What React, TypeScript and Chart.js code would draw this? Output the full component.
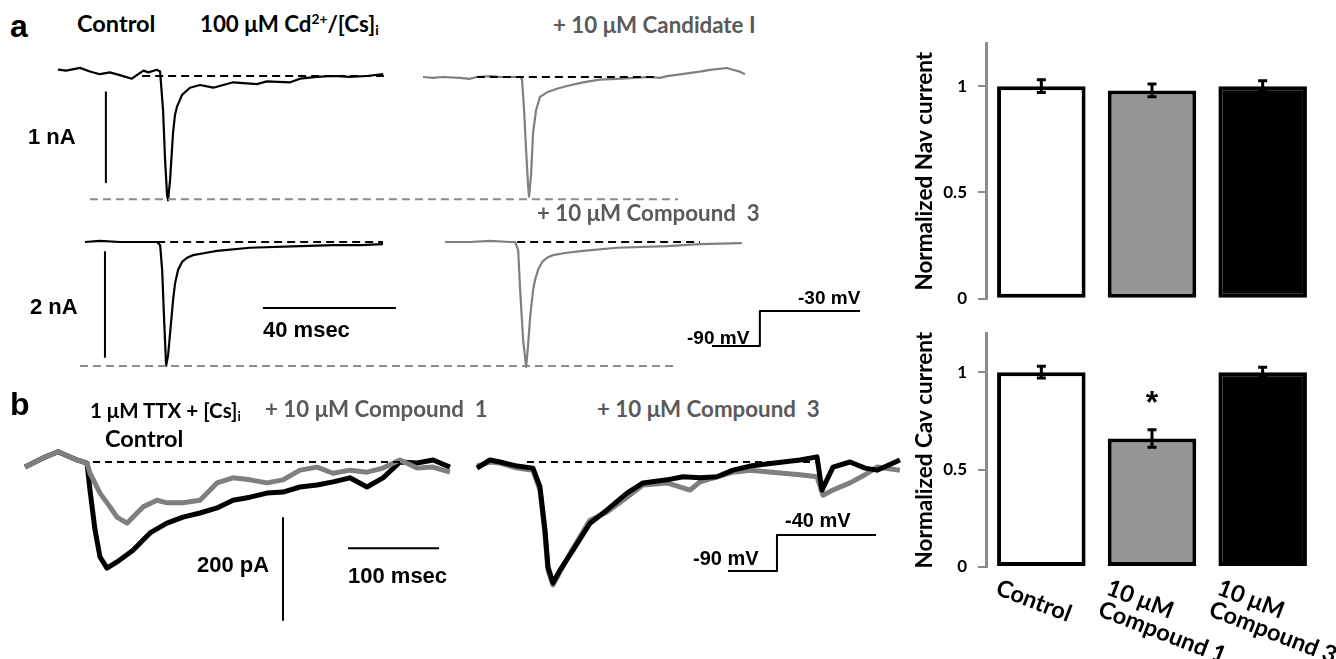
import React, { useEffect, useRef } from "react";
import { Chart, registerables } from "chart.js";

Chart.register(...registerables);

// ================= DATA =================
// Panel a, row 1 — Control trace (time ms, current nA)
const a1Time = [0, 2.5, 6.6, 9.6, 12.6, 15.6, 18.6, 22.2, 23.7, 25.7, 27.2, 29.7, 30.7, 31.6, 32.2, 32.8, 33.1, 33.7, 34.6, 35.2, 35.8, 37.3, 39.7, 42.7, 46.7, 52.7, 59.8, 62.8, 69.8, 72.8, 77.8, 82.8, 87.8, 92.8, 97.8];
const a1Current = [0.07, 0.06, 0.09, 0.05, 0.02, 0.04, 0.01, -0.03, 0.01, 0.06, 0.04, 0.07, 0.05, -0.38, -0.93, -1.32, -1.38, -1.16, -0.63, -0.43, -0.34, -0.21, -0.13, -0.1, -0.13, -0.07, -0.09, -0.06, -0.07, -0.03, -0.01, 0, -0.01, 0, 0.02];
const a1ZeroSpan = [25.3, 98.0];
const a1PeakLevel = -1.37;
const a1PeakSpan = [9.6, 186.5];
const a1ScaleBarTime = 14.4;
const a1ScaleBarCurrent = [-0.18, -1.18]; // 1 nA

// Panel a, row 1 — + 10 µM Candidate I
const a2Time = [0, 3.0, 6.0, 11.1, 14.1, 16.2, 20.2, 23.2, 26.2, 29.2, 29.8, 30.4, 31.0, 31.6, 31.9, 32.5, 33.1, 34.0, 35.2, 37.3, 40.3, 43.3, 48.1, 53.2, 58.3, 68.3, 71.3, 73.4, 83.3, 86.3, 91.4, 93.2, 95.3, 96.8];
const a2Current = [0, -0.01, 0, -0.01, -0.02, 0, 0.01, 0, 0, 0, -0.03, -0.37, -0.81, -1.2, -1.33, -1.09, -0.62, -0.37, -0.22, -0.17, -0.13, -0.1, -0.06, -0.03, -0.02, 0, -0.01, 0.01, 0.06, 0.08, 0.1, 0.08, 0.06, 0.03];
const a2ZeroSpan = [16.2, 70.7];

// Panel a, row 2 — Control
const a3Time = [0, 4.5, 10.5, 16.5, 21.7, 22.6, 23.2, 23.8, 24.4, 25.0, 25.6, 26.5, 27.1, 28.0, 29.2, 30.7, 32.5, 36.1, 39.7, 49.6, 64.7, 74.6, 82.7, 89.6];
const a3Current = [0, 0.02, 0, 0, 0, -0.06, -0.53, -1.49, -2.36, -2.15, -1.73, -1.1, -0.78, -0.53, -0.38, -0.3, -0.25, -0.21, -0.17, -0.11, -0.08, -0.06, -0.06, -0.04];
const a3ZeroSpan = [21.7, 89.6];
const a3PeakLevel = -2.36;
const a3PeakSpan = [-1.5, 178.3];
const a3ScaleBarTime = 6.0;
const a3ScaleBarCurrent = [-0.19, -2.19]; // 2 nA
const a3TimeBar = [53.5, 93.5]; // 40 msec
const a3TimeBarLevel = -1.257;

// Panel a, row 2 — + 10 µM Compound 3
const a4Time = [0, 7.5, 13.5, 19.5, 21.1, 22.0, 22.6, 23.5, 24.4, 25.0, 25.6, 26.5, 27.1, 28.0, 29.2, 30.7, 32.5, 36.1, 41.5, 51.7, 66.8, 76.7, 89.3];
const a4Current = [0, 0, 0.02, 0, 0, -0.15, -0.91, -1.87, -2.38, -1.96, -1.43, -0.91, -0.72, -0.53, -0.38, -0.3, -0.25, -0.21, -0.17, -0.11, -0.08, -0.04, -0.02];
const a4ZeroSpan = [21.7, 76.7];

// Voltage protocols (ms, mV)
const stepATime = [0, 14.4, 14.4, 44.5];
const stepAVoltage = [-90, -90, -30, -30];
const stepBTime = [0, 53.8, 53.8, 162.6];
const stepBVoltage = [-90, -90, -40, -40];

// Panel b, left — Control (black) and + 10 µM Compound 1 (grey), pA
const b1Time = [0, 19.8, 36.3, 57.1, 68.1, 71.4, 76.9, 82.4, 90.1, 101.1, 118.7, 137.4, 156.0, 173.6, 192.3, 211.0, 228.6, 247.3, 265.9, 283.5, 302.2, 320.9, 338.5, 357.1, 375.8, 393.4, 412.1, 430.8, 448.4, 467.0];
const b1Control = [-10, 8, 20, 4, -2, -55, -133, -186, -208, -196, -173, -139, -120, -108, -100, -90, -75, -69, -61, -59, -49, -45, -39, -31, -49, -31, 0, -2, 4, -10];
const b1CompoundTime = [0, 19.8, 36.3, 57.1, 68.1, 71.4, 82.4, 93.4, 101.1, 112.1, 118.7, 129.7, 145.1, 156.0, 173.6, 192.3, 211.0, 228.6, 247.3, 265.9, 283.5, 302.2, 320.9, 338.5, 357.1, 375.8, 393.4, 412.1, 430.8, 448.4, 467.0];
const b1Compound1 = [-10, 8, 20, 4, -2, -22, -61, -88, -108, -120, -108, -88, -75, -80, -80, -75, -41, -31, -35, -41, -35, -16, -10, -22, -16, -20, -12, 4, -12, -10, -20];
const b1ZeroSpan = [74.7, 412.1];
const b1ScaleBarTime = 283.5;
const b1ScaleBarCurrent = [-110, -310]; // 200 pA
const b1TimeBar = [355, 455]; // 100 msec
const b1TimeBarLevel = -169;

// Panel b, right — Control (black) and + 10 µM Compound 3 (grey)
const b2Time = [0, 14.3, 25.3, 44.0, 61.5, 69.2, 74.7, 78.0, 83.5, 91.2, 105.5, 124.2, 142.9, 164.8, 182.4, 208.8, 226.4, 245.1, 263.7, 281.3, 300.0, 336.3, 354.9, 373.6, 379.1, 391.2, 409.9, 426.4, 439.6, 464.8];
const b2Control = [-12, 4, 0, -8, -12, -49, -133, -206, -237, -212, -173, -120, -94, -61, -41, -35, -29, -31, -29, -16, -8, 0, 4, 10, -55, -10, 0, -12, -16, 4];
const b2CompoundTime = [0, 14.3, 25.3, 44.0, 61.5, 69.2, 74.7, 78.0, 83.5, 91.2, 105.5, 124.2, 142.9, 164.8, 182.4, 208.8, 234.1, 245.1, 263.7, 281.3, 300.0, 336.3, 354.9, 373.6, 380.2, 391.2, 409.9, 426.4, 439.6, 464.8];
const b2Compound3 = [-8, 0, -2, -12, -16, -55, -143, -212, -241, -216, -169, -114, -98, -69, -45, -41, -55, -39, -29, -20, -16, -22, -25, -29, -65, -55, -41, -25, -10, -16];
const b2ZeroSpan = [54.9, 376.9];

// Bar charts
const categoryLines = [["Control"], ["10 μM", "Compound 1"], ["10 μM", "Compound 3"]];
const categories = categoryLines.map((l) => l.join(" "));
const navMean = [1.0, 0.98, 1.0];
const navSem = [0.03, 0.03, 0.025];
const cavMean = [1.0, 0.66, 1.0];
const cavSem = [0.03, 0.045, 0.025];
const cavSignificance = ["", "*", ""];
const yTicks = [0, 0.5, 1];

// ================= HELPERS =================
const LATO = "Lato, 'Noto Sans', sans-serif";
const ARIAL = "'Liberation Sans', Arial, sans-serif";
const BLACK = "#000000";
const GREY_TRACE = "#7f7f7f";
const GREY_DASH = "#8c8c8c";
const GREY_TEXT = "#5a5a5a";

type Pt = { x: number; y: number };
const zip = (xs: number[], ys: number[]): Pt[] => xs.map((x, i) => ({ x, y: ys[i] }));
const hLine = (span: number[], level: number): Pt[] => span.map((x) => ({ x, y: level }));
const vLine = (at: number, span: number[]): Pt[] => span.map((y) => ({ x: at, y }));

type Frame = { left: number; top: number; width: number; height: number; x0: number; y0: number; sx: number; sy: number };
type Series = { data: Pt[]; color: string; width: number; dash?: number[] };

function traceConfig(f: Frame, series: Series[]): any {
  return {
    type: "scatter",
    data: {
      datasets: series.map((s) => ({
        data: s.data,
        showLine: true,
        borderColor: s.color,
        borderWidth: s.width,
        borderDash: s.dash || [],
        borderCapStyle: "butt",
        borderJoinStyle: "round",
        pointRadius: 0,
        pointHoverRadius: 0,
        fill: false,
        tension: 0,
        clip: 8,
      })),
    },
    options: {
      animation: false,
      responsive: false,
      events: [],
      layout: { padding: 0 },
      plugins: { legend: { display: false }, tooltip: { enabled: false }, title: { display: false } },
      scales: {
        x: { type: "linear", display: false, min: (f.left - f.x0) / f.sx, max: (f.left + f.width - f.x0) / f.sx },
        y: { type: "linear", display: false, min: (f.y0 - f.top - f.height) / f.sy, max: (f.y0 - f.top) / f.sy },
      },
    },
  };
}

function makeBarPlugin(mean: number[], sem: number[], sig?: string[], lines?: string[][]) {
  return {
    id: "errBars",
    afterDatasetsDraw(chart: any) {
      const { ctx } = chart;
      const meta = chart.getDatasetMeta(0);
      const ys = chart.scales.y;
      ctx.save();
      ctx.strokeStyle = BLACK;
      ctx.lineWidth = 3;
      meta.data.forEach((bar: any, i: number) => {
        const yt = ys.getPixelForValue(mean[i] + sem[i]);
        const yb = ys.getPixelForValue(mean[i] - sem[i]);
        ctx.beginPath();
        ctx.moveTo(bar.x, yt);
        ctx.lineTo(bar.x, yb);
        ctx.moveTo(bar.x - 4.5, yt);
        ctx.lineTo(bar.x + 4.5, yt);
        ctx.moveTo(bar.x - 4.5, yb);
        ctx.lineTo(bar.x + 4.5, yb);
        ctx.stroke();
        if (sig && sig[i]) {
          ctx.fillStyle = BLACK;
          ctx.font = `bold 32px ${ARIAL}`;
          ctx.textAlign = "center";
          ctx.textBaseline = "alphabetic";
          ctx.fillText(sig[i], bar.x, yt - 17);
        }
      });
      ctx.restore();
    },
    afterDraw(chart: any) {
      if (!lines) return;
      const { ctx } = chart;
      const xs = chart.scales.x;
      ctx.save();
      ctx.fillStyle = BLACK;
      ctx.font = `bold 23.5px ${LATO}`;
      ctx.textAlign = "left";
      ctx.textBaseline = "top";
      lines.forEach((ls, i) => {
        const x = xs.getPixelForValue(i);
        ctx.save();
        ctx.translate(x - 40, chart.chartArea.bottom + 9);
        ctx.rotate((21 * Math.PI) / 180);
        ls.forEach((t, j) => ctx.fillText(t, 0, j * 23));
        ctx.restore();
      });
      ctx.restore();
    },
  };
}

function barConfig(p: { mean: number[]; sem: number[]; title: string; padTop: number; padBottom: number; sig?: string[]; lines?: string[][] }): any {
  return {
    type: "bar",
    data: {
      labels: categories,
      datasets: [
        {
          data: p.mean,
          backgroundColor: ["#ffffff", "#969696", "#000000"],
          borderColor: BLACK,
          borderWidth: 4,
          borderSkipped: false,
          barPercentage: 0.8,
          categoryPercentage: 1,
        },
      ],
    },
    options: {
      animation: false,
      responsive: false,
      events: [],
      layout: { padding: { left: 0, right: 18, top: p.padTop, bottom: p.padBottom } },
      plugins: { legend: { display: false }, tooltip: { enabled: false } },
      scales: {
        x: { display: false },
        y: {
          min: 0,
          max: 1.2,
          afterFit: (s: any) => {
            s.width = 106;
          },
          afterBuildTicks: (s: any) => {
            s.ticks = yTicks.map((v) => ({ value: v }));
          },
          ticks: { callback: (v: any) => String(v), font: { family: LATO, weight: "bold", size: 17 }, color: BLACK, padding: 11 },
          grid: { drawOnChartArea: false, drawTicks: true, tickLength: 8, color: GREY_DASH, lineWidth: 2 },
          border: { display: true, color: GREY_DASH, width: 3 },
          title: { display: true, text: p.title, font: { family: LATO, weight: "bold", size: 22.5 }, color: BLACK, padding: { top: 31, bottom: 0 } },
        },
      },
    },
    plugins: [makeBarPlugin(p.mean, p.sem, p.sig, p.lines)],
  };
}

function ChartCanvas({ box, make }: { box: { left: number; top: number; width: number; height: number }; make: () => any }) {
  const ref = useRef<HTMLCanvasElement>(null);
  useEffect(() => {
    const chart = new Chart(ref.current as HTMLCanvasElement, make());
    return () => chart.destroy();
  }, []);
  return (
    <canvas
      ref={ref}
      width={box.width}
      height={box.height}
      style={{ position: "absolute", left: box.left, top: box.top, width: box.width, height: box.height }}
    />
  );
}

function Label({ x, base, size, font, color = BLACK, children }: { x: number; base: number; size: number; font: "lato" | "arial"; color?: string; children: any }) {
  const k = font === "lato" ? 0.887 : 0.8465;
  return (
    <div
      style={{
        position: "absolute",
        left: x,
        top: base - k * size,
        fontFamily: font === "lato" ? LATO : ARIAL,
        fontWeight: 700,
        fontSize: size,
        lineHeight: `${size}px`,
        color,
        whiteSpace: "pre",
      }}
    >
      {children}
    </div>
  );
}

const supStyle: React.CSSProperties = { fontSize: "0.62em", lineHeight: 0, verticalAlign: "0.55em" };
const subStyle: React.CSSProperties = { fontSize: "0.62em", lineHeight: 0, verticalAlign: "-0.25em" };

// ================= FRAMES =================
const fA1: Frame = { left: 40, top: 50, width: 660, height: 170, x0: 58, y0: 76, sx: 3.325, sy: 90 };
const fA2: Frame = { left: 400, top: 50, width: 360, height: 170, x0: 423, y0: 77, sx: 3.325, sy: 90 };
const fA3: Frame = { left: 40, top: 225, width: 660, height: 150, x0: 85, y0: 242, sx: 3.325, sy: 52.5 };
const fA4: Frame = { left: 420, top: 225, width: 340, height: 150, x0: 445, y0: 242, sx: 3.325, sy: 52.5 };
const fStepA: Frame = { left: 700, top: 300, width: 175, height: 60, x0: 712, y0: 293.5, sx: 3.325, sy: 0.5833 };
const fB1: Frame = { left: 10, top: 440, width: 450, height: 190, x0: 25, y0: 462, sx: 0.91, sy: 0.51 };
const fB2: Frame = { left: 465, top: 440, width: 445, height: 160, x0: 477, y0: 462, sx: 0.91, sy: 0.51 };
const fStepB: Frame = { left: 715, top: 520, width: 175, height: 60, x0: 728, y0: 506.2, sx: 0.91, sy: 0.72 };

const DASH = [8, 5];

export default function App() {
  return (
    <div style={{ position: "absolute", left: 0, top: 0, width: 1336, height: 659, background: "#fff", overflow: "hidden" }}>
      <ChartCanvas
        box={fA1}
        make={() =>
          traceConfig(fA1, [
            { data: hLine(a1PeakSpan, a1PeakLevel), color: GREY_DASH, width: 2, dash: DASH },
            { data: hLine(a1ZeroSpan, 0), color: BLACK, width: 2, dash: DASH },
            { data: vLine(a1ScaleBarTime, a1ScaleBarCurrent), color: BLACK, width: 2 },
            { data: zip(a1Time, a1Current), color: BLACK, width: 2.2 },
          ])
        }
      />
      <ChartCanvas
        box={fA2}
        make={() =>
          traceConfig(fA2, [
            { data: hLine(a2ZeroSpan, 0), color: BLACK, width: 2, dash: DASH },
            { data: zip(a2Time, a2Current), color: GREY_TRACE, width: 2.2 },
          ])
        }
      />
      <ChartCanvas
        box={fA3}
        make={() =>
          traceConfig(fA3, [
            { data: hLine(a3PeakSpan, a3PeakLevel), color: GREY_DASH, width: 2, dash: DASH },
            { data: hLine(a3ZeroSpan, 0), color: BLACK, width: 2, dash: DASH },
            { data: vLine(a3ScaleBarTime, a3ScaleBarCurrent), color: BLACK, width: 2 },
            { data: hLine(a3TimeBar, a3TimeBarLevel), color: BLACK, width: 2 },
            { data: zip(a3Time, a3Current), color: BLACK, width: 2.2 },
          ])
        }
      />
      <ChartCanvas
        box={fA4}
        make={() =>
          traceConfig(fA4, [
            { data: hLine(a4ZeroSpan, 0), color: BLACK, width: 2, dash: DASH },
            { data: zip(a4Time, a4Current), color: GREY_TRACE, width: 2.2 },
          ])
        }
      />
      <ChartCanvas box={fStepA} make={() => traceConfig(fStepA, [{ data: zip(stepATime, stepAVoltage), color: BLACK, width: 2 }])} />
      <ChartCanvas
        box={fB1}
        make={() =>
          traceConfig(fB1, [
            { data: hLine(b1ZeroSpan, 0), color: BLACK, width: 2, dash: [7, 5] },
            { data: zip(b1CompoundTime, b1Compound1), color: GREY_TRACE, width: 5 },
            { data: zip(b1Time, b1Control), color: BLACK, width: 5 },
            { data: vLine(b1ScaleBarTime, b1ScaleBarCurrent), color: BLACK, width: 2 },
            { data: hLine(b1TimeBar, b1TimeBarLevel), color: BLACK, width: 2 },
          ])
        }
      />
      <ChartCanvas
        box={fB2}
        make={() =>
          traceConfig(fB2, [
            { data: hLine(b2ZeroSpan, 0), color: BLACK, width: 2, dash: [7, 5] },
            { data: zip(b2Time, b2Control), color: BLACK, width: 5 },
            { data: zip(b2CompoundTime, b2Compound3), color: GREY_TRACE, width: 5 },
          ])
        }
      />
      <ChartCanvas box={fStepB} make={() => traceConfig(fStepB, [{ data: zip(stepBTime, stepBVoltage), color: BLACK, width: 2 }])} />

      <ChartCanvas
        box={{ left: 880, top: 20, width: 456, height: 300 }}
        make={() => barConfig({ mean: navMean, sem: navSem, title: "Normalized Nav current", padTop: 23.6, padBottom: 10 })}
      />
      <ChartCanvas
        box={{ left: 880, top: 312, width: 456, height: 347 }}
        make={() =>
          barConfig({ mean: cavMean, sem: cavSem, title: "Normalized Cav current", padTop: 13, padBottom: 92, sig: cavSignificance, lines: categoryLines })
        }
      />

      {/* panel a text */}
      <Label x={10} base={37} size={32} font="arial">a</Label>
      <Label x={77} base={33} size={23.5} font="lato">Control</Label>
      <Label x={200} base={33} size={22.3} font="lato">
        100 μM Cd<sup style={supStyle}>2+</sup>/[Cs]<sub style={subStyle}>i</sub>
      </Label>
      <Label x={553} base={34} size={22.3} font="lato" color={GREY_TEXT}>+ 10 μM Candidate I</Label>
      <Label x={537} base={222} size={22.3} font="lato" color={GREY_TEXT}>+ 10 μM Compound  3</Label>
      <Label x={28} base={145} size={22} font="arial">1 nA</Label>
      <Label x={30} base={315} size={22} font="arial">2 nA</Label>
      <Label x={263} base={338} size={22} font="arial">40 msec</Label>
      <Label x={798} base={304} size={19} font="arial">-30 mV</Label>
      <Label x={687} base={344} size={19} font="arial">-90 mV</Label>

      {/* panel b text */}
      <Label x={10} base={415} size={32} font="arial">b</Label>
      <Label x={90} base={418} size={20.5} font="lato">
        1 μM TTX + [Cs]<sub style={subStyle}>i</sub>
      </Label>
      <Label x={265} base={418} size={22.3} font="lato" color={GREY_TEXT}>+ 10 μM Compound  1</Label>
      <Label x={105} base={448} size={23.5} font="lato">Control</Label>
      <Label x={597} base={418} size={22.3} font="lato" color={GREY_TEXT}>+ 10 μM Compound  3</Label>
      <Label x={197} base={573} size={22} font="arial">200 pA</Label>
      <Label x={348} base={584} size={22} font="arial">100 msec</Label>
      <Label x={785} base={527} size={20} font="arial">-40 mV</Label>
      <Label x={693} base={565} size={20} font="arial">-90 mV</Label>
    </div>
  );
}
